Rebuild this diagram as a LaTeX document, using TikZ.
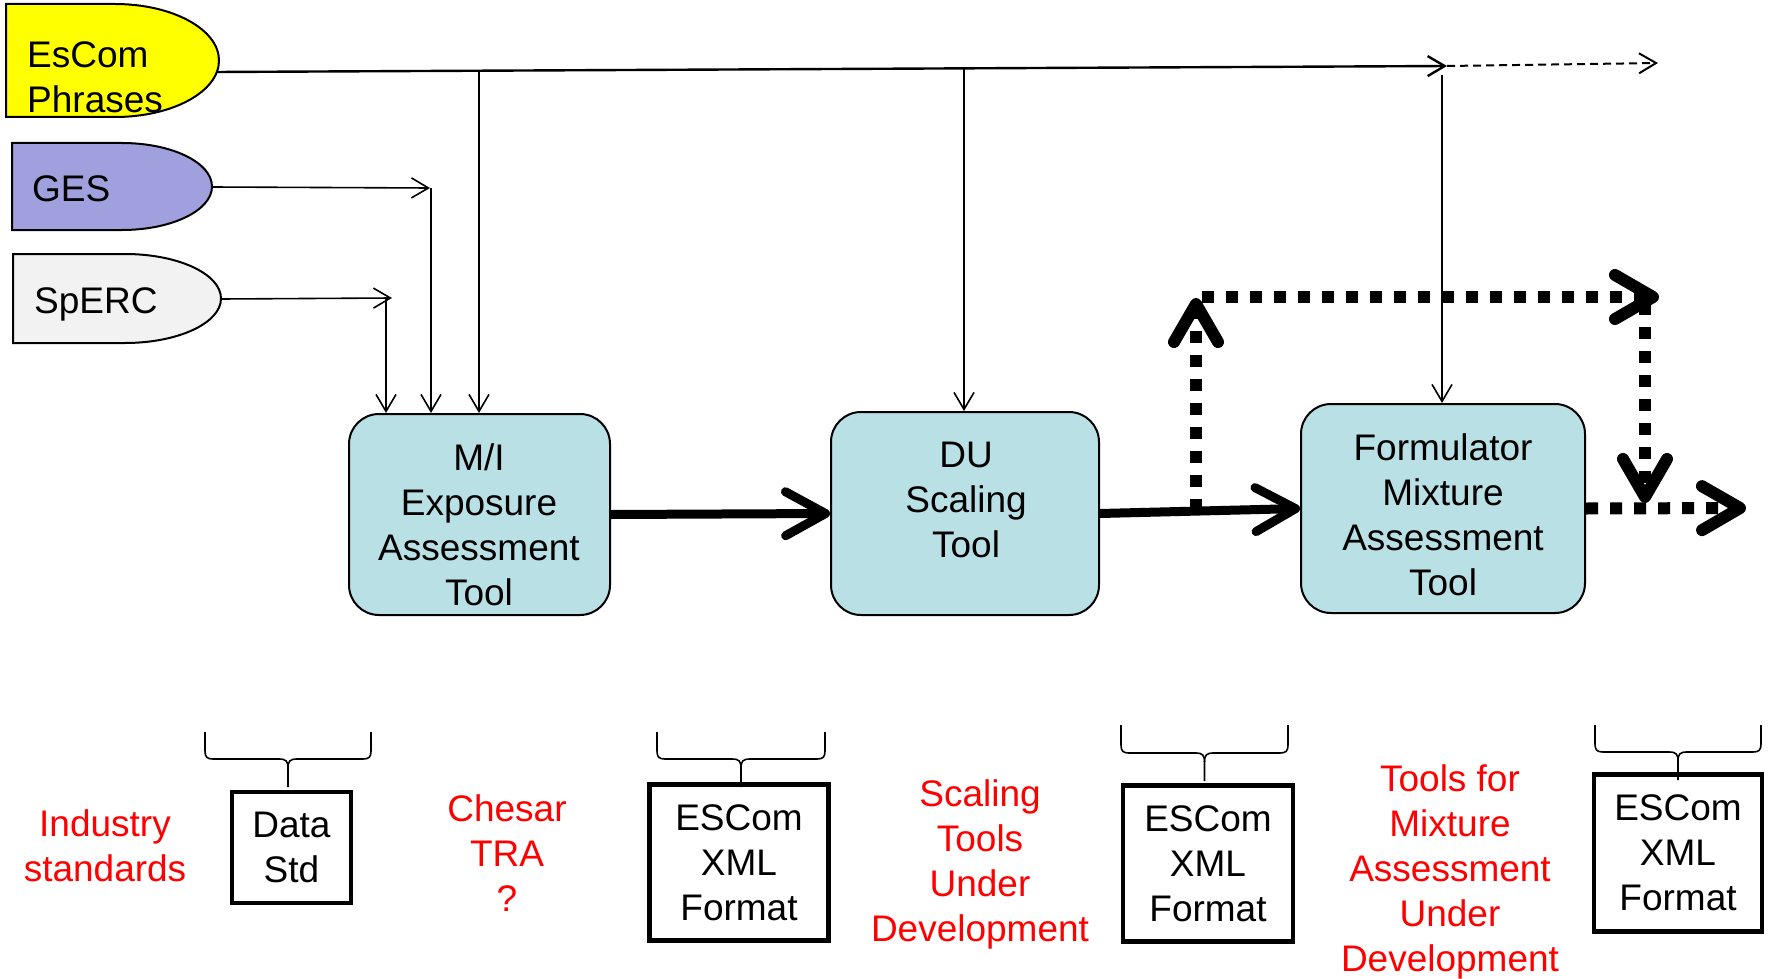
\documentclass[tikz,border=0pt]{standalone}
\usepackage{fontspec}
\setmainfont{Liberation Sans}
\usetikzlibrary{arrows.meta}
\definecolor{escomyellow}{HTML}{FFFF00}
\definecolor{gesblue}{HTML}{A0A0DE}
\definecolor{spercgray}{HTML}{F2F2F2}
\definecolor{toolfill}{HTML}{B9E0E4}
\definecolor{redtext}{HTML}{FF0000}
\tikzset{
  txt/.style={font=\fontsize{37}{45}\selectfont, align=center, inner sep=0pt},
  tabtxt/.style={font=\fontsize{37}{45}\selectfont, align=left, inner sep=0pt, anchor=west},
  redtxt/.style={txt, text=redtext},
  toolbox/.style={draw, line width=2pt, fill=toolfill, rounded corners=30pt},
  fmtbox/.style={draw, line width=4.5pt, inner sep=0pt, font=\fontsize{37}{45}\selectfont, align=center},
  tabshape/.style={draw, line width=2pt},
  thinarrow/.style={line width=1.6pt, -{Straight Barb[length=17pt,width=20pt]}},
  mainarrow/.style={line width=2.4pt, -{Straight Barb[length=17pt,width=20pt]}},
  thinline/.style={line width=1.6pt},
  thickarrow/.style={line width=9pt, -{Straight Barb[length=40pt,width=44pt,round]}},
  dotarrow/.style={line width=12pt, dash pattern=on 12pt off 12pt, -{Straight Barb[length=38pt,width=44pt,round,line width=12pt]}},
  dasharrow/.style={line width=2pt, dash pattern=on 8pt off 5pt, -{Straight Barb[length=17pt,width=20pt]}},
  bracepath/.style={line width=1.6pt},
}
% D-shaped tab: style, x0, y0, y1, flat end xf, right extreme x1
\newcommand{\dtab}[6]{%
  \filldraw[#1] (#2,#3) -- (#5,#3)
    .. controls ({#5+0.5523*(#6-#5)},#3) and (#6,{#3+(1-0.5523)*(#4-#3)/2}) .. (#6,{(#3+#4)/2})
    .. controls (#6,{#4-(1-0.5523)*(#4-#3)/2}) and ({#5+0.5523*(#6-#5)},#4) .. (#5,#4)
    -- (#2,#4) -- cycle;}
% downward curly brace: left, right, top, middle, tip
\newcommand{\dbrace}[5]{%
  \draw[bracepath] (#1,#3) -- (#1,{#4-8})
    .. controls (#1,{#4-2}) and ({#1+2},#4) .. ({#1+8},#4)
    -- ({(#1+#2)/2-9},#4)
    .. controls ({(#1+#2)/2-2},#4) and ({(#1+#2)/2},{#4+2}) .. ({(#1+#2)/2},{#4+9})
    -- ({(#1+#2)/2},#5);
  \draw[bracepath] (#2,#3) -- (#2,{#4-8})
    .. controls (#2,{#4-2}) and ({#2-2},#4) .. ({#2-8},#4)
    -- ({(#1+#2)/2+9},#4)
    .. controls ({(#1+#2)/2+2},#4) and ({(#1+#2)/2},{#4+2}) .. ({(#1+#2)/2},{#4+9});}
\begin{document}
\begin{tikzpicture}[x=1pt,y=-1pt]
\useasboundingbox (0,0) rectangle (1769,979);

% input tabs
\dtab{tabshape, fill=escomyellow}{6}{4}{117}{115}{219}
\dtab{tabshape, fill=gesblue}{12}{143}{230}{122}{212}
\dtab{tabshape, fill=spercgray}{13}{254}{343}{125}{221}
\node[tabtxt] (escom) at (27,77) {EsCom\\Phrases};
\node[tabtxt] (ges) at (32,189) {GES};
\node[tabtxt] (sperc) at (34,304) {SpERC};
\coordinate (escomR) at (216,72);
\coordinate (gesR) at (212,187);
\coordinate (spercR) at (221,299);

% tools
\node[toolbox, minimum width=261pt, minimum height=201pt] (mi) at (479.5,514.5) {};
\node[txt] (mitxt) at (479,524.5) {M/I\\Exposure\\Assessment\\Tool};
\node[toolbox, minimum width=268pt, minimum height=203pt] (du) at (965,513.5) {};
\node[txt] (dutxt) at (966,500) {DU\\Scaling\\Tool};
\node[toolbox, minimum width=284pt, minimum height=209pt] (fm) at (1443,508.5) {};
\node[txt] (fmtxt) at (1443,515) {Formulator\\Mixture\\Assessment\\Tool};

% EsCom phrases distribution line
\coordinate (ehead) at (1447,66);
\coordinate (eout) at (1658,63);
\coordinate (ej1) at (479,71);
\coordinate (ej2) at (964,69);
\coordinate (ej3) at (1442,75);
\draw[mainarrow] (escomR) -- (ehead);
\draw[dasharrow] (ehead) -- (eout);
\draw[thinarrow] (ej1) -- (ej1 |- mi.north);
\draw[thinarrow] (ej2) -- (ej2 |- du.north);
\draw[thinarrow] (ej3) -- (ej3 |- fm.north);

% GES and SpERC inputs
\coordinate (gesH) at (430,188);
\coordinate (gesJ) at (431,188);
\coordinate (spH) at (392,298);
\coordinate (spJ) at (386,298);
\draw[thinarrow] (gesR) -- (gesH);
\draw[thinarrow] (gesJ) -- (gesJ |- mi.north);
\draw[thinarrow] (spercR) -- (spH);
\draw[thinarrow] (spJ) -- (spJ |- mi.north);

% main flow
\draw[thickarrow] (mi.east) -- (du.west);
\draw[thickarrow] (du.east) -- (fm.west);
\coordinate (up0) at (1196,511);
\coordinate (up1) at (1196,298);
\coordinate (tl) at (1202,297);
\coordinate (tr) at (1659,297);
\coordinate (dn0) at (1645,303);
\coordinate (dn1) at (1645,503);
\coordinate (out) at (1746,508);
\draw[dotarrow] (up0) -- (up1);
\draw[dotarrow] (tl) -- (tr);
\draw[dotarrow] (dn0) -- (dn1);
\draw[dotarrow] (fm.east) -- (out);

% bottom row
\dbrace{205}{371}{732}{759}{787}
\dbrace{657}{825}{732}{759}{787}
\dbrace{1121}{1288}{725}{753}{781}
\dbrace{1595}{1761}{725}{752}{780}
\node[fmtbox, minimum width=119pt, minimum height=111pt] (ds) at (291.5,847.5) {Data\\Std};
\node[fmtbox, minimum width=179pt, minimum height=156pt] (x1) at (739,862.5) {ESCom\\XML\\Format};
\node[fmtbox, minimum width=170pt, minimum height=156pt] (x2) at (1208,863.5) {ESCom\\XML\\Format};
\node[fmtbox, minimum width=168pt, minimum height=157pt] (x3) at (1678,853) {ESCom\\XML\\Format};

\node[redtxt] (ind) at (105,846) {Industry\\standards};
\node[redtxt] (ches) at (507,853.5) {Chesar\\TRA\\?};
\node[redtxt] (scal) at (980,864) {Scaling\\Tools\\Under\\Development};
\node[redtxt] (mixt) at (1450,872) {Tools for\\Mixture\\Assessment\\Under\\Development};
\end{tikzpicture}
\end{document}
